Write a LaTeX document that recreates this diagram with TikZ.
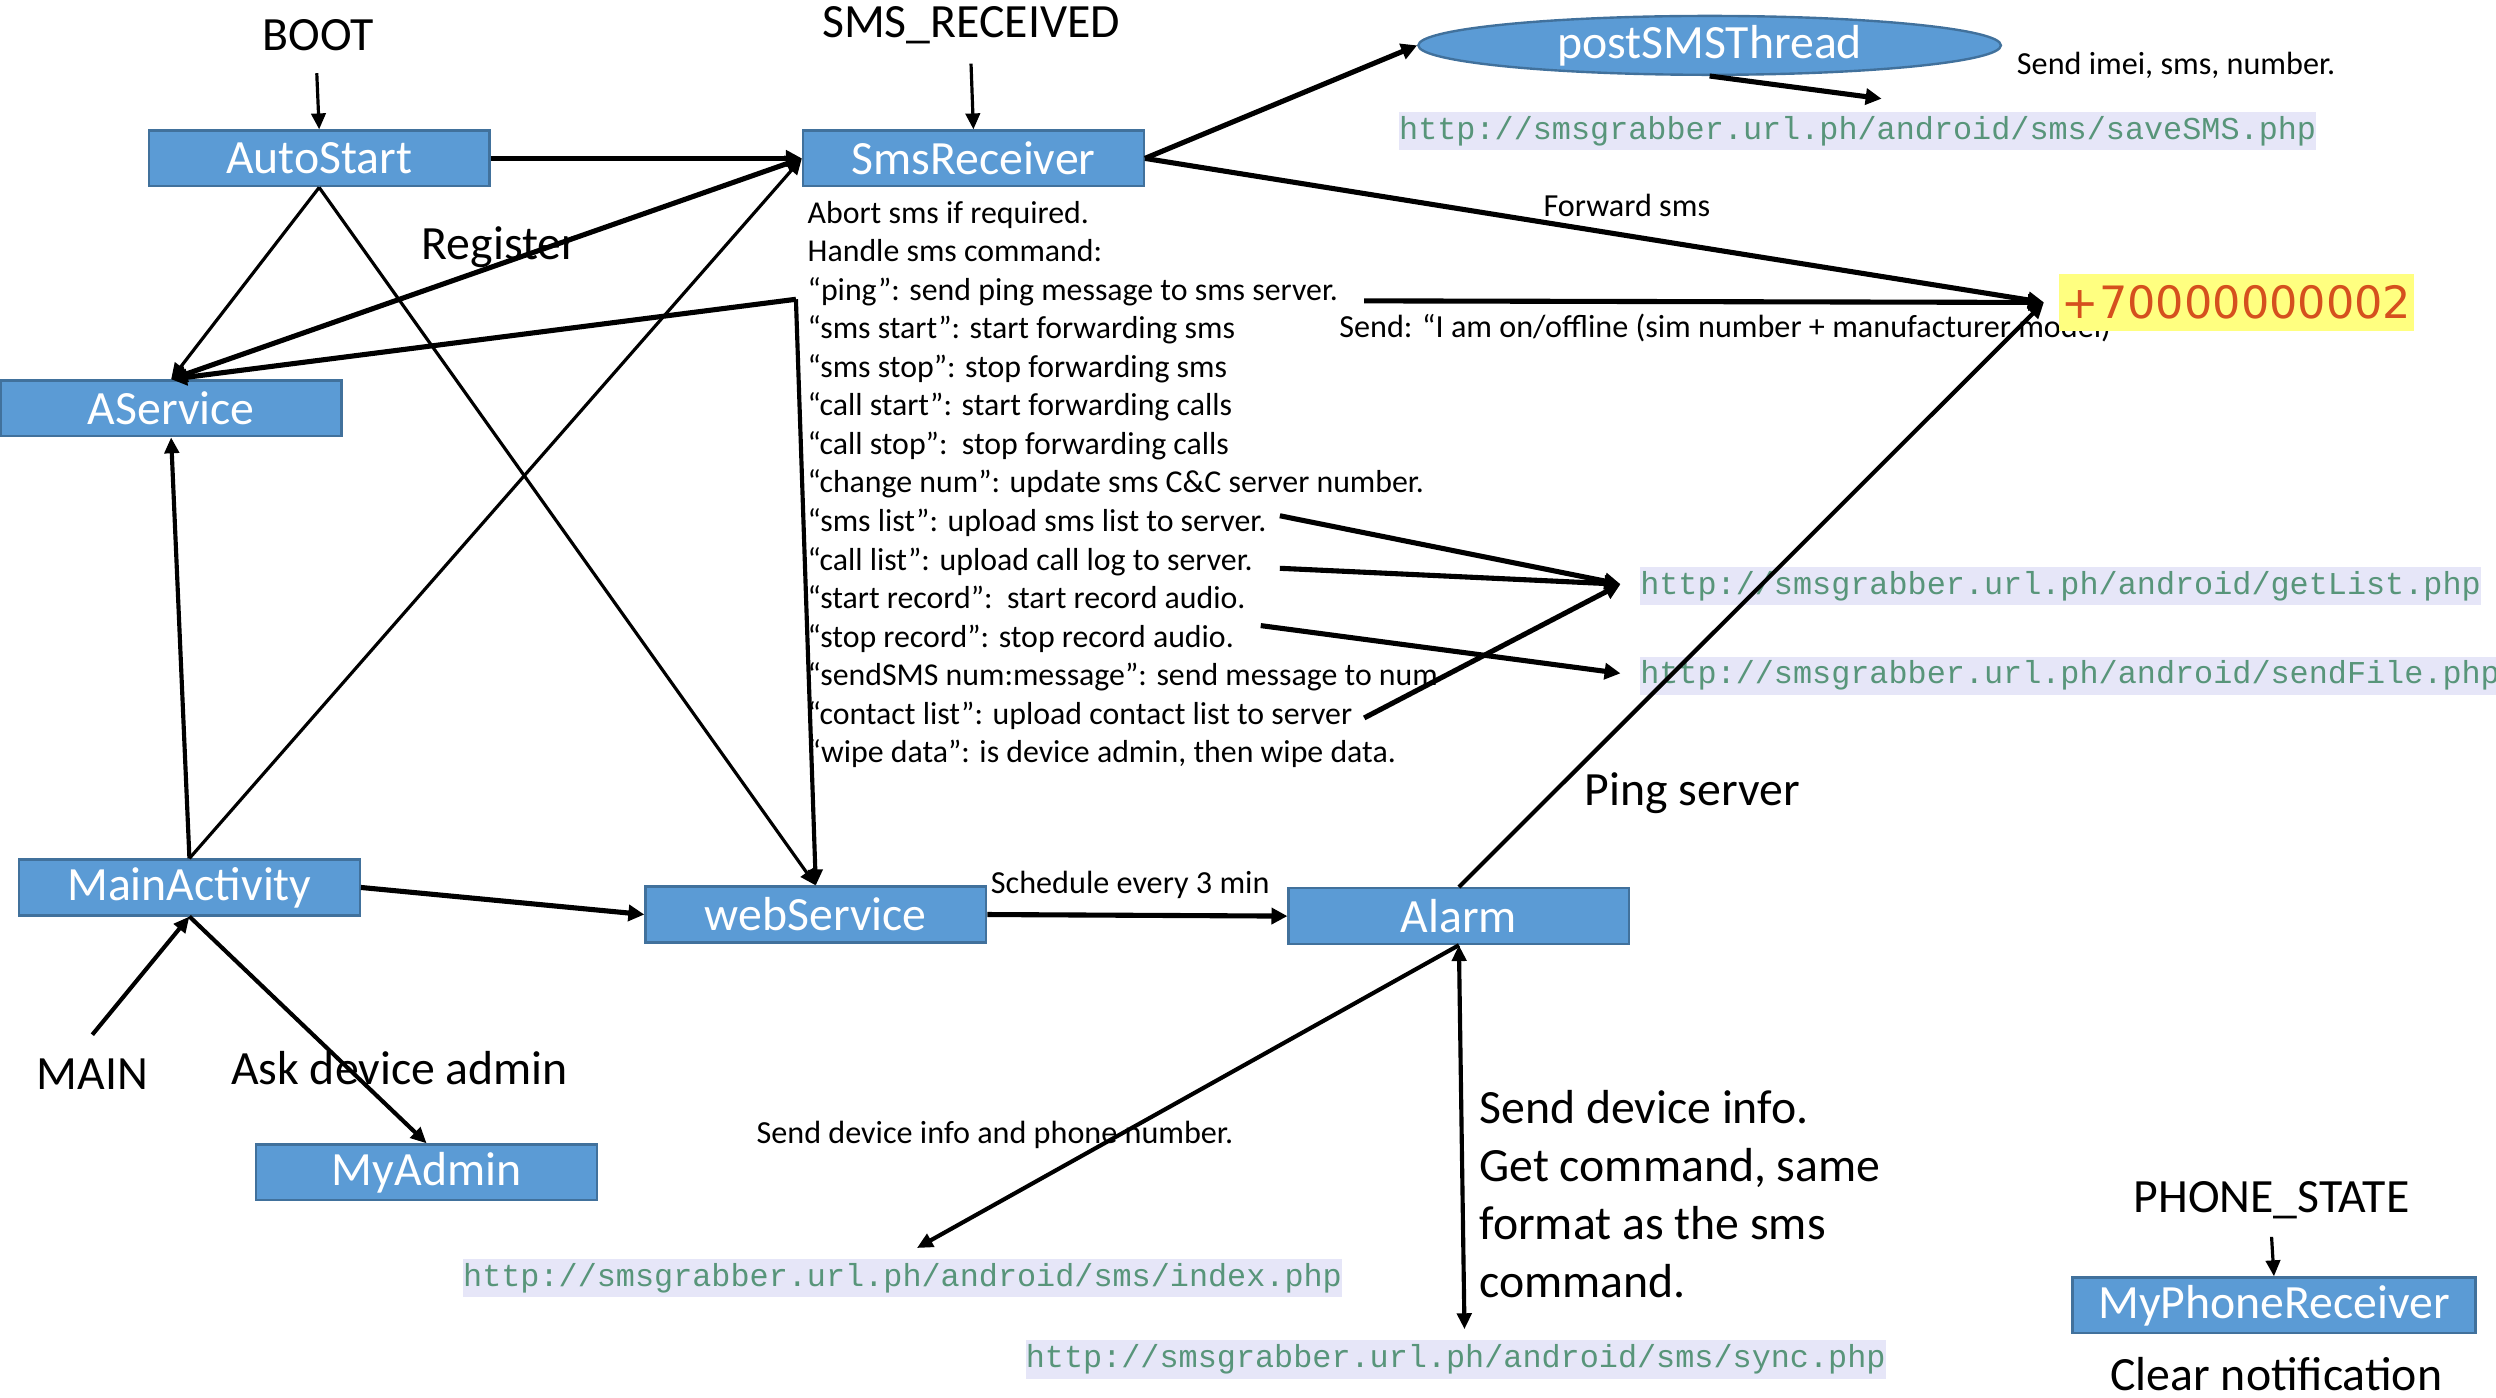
\documentclass[tikz,border=0pt]{standalone}
\usepackage{fontspec}
\setmainfont{Carlito}
\newfontfamily\urlfont{Liberation Mono}
\newfontfamily\numfont{DejaVu Sans}
\usetikzlibrary{arrows.meta,shapes.geometric}
\definecolor{boxfill}{HTML}{5B9BD5}
\definecolor{boxline}{HTML}{41719C}
\definecolor{urlbg}{HTML}{E6E6F8}
\definecolor{urltext}{HTML}{58957A}
\definecolor{numtext}{HTML}{D5501E}
\definecolor{numbg}{HTML}{FFFF80}
\begin{document}
\begin{tikzpicture}[x=0.5pt,y=-0.5pt,
  box/.style={draw=boxline, line width=0.75pt, fill=boxfill, text=white,
    font=\fontsize{15}{17}\selectfont, minimum width=107pt, minimum height=17.5pt, inner sep=0pt},
  big/.style={font=\fontsize{15}{17}\selectfont, inner sep=0pt},
  small/.style={font=\fontsize{10.1}{12.1}\selectfont, inner sep=0pt},
  cmdtext/.style={font=\fontsize{10}{12.1}\selectfont, inner sep=0pt},
  urlnode/.style={fill=urlbg, text=urltext, font=\urlfont\fontsize{10}{12}\selectfont,
    inner xsep=0pt, inner ysep=0pt, minimum height=12pt},
  fat/.style={line width=1.6pt, -{Triangle[length=5pt,width=5pt]}},
  mid/.style={line width=1.3pt, -{Triangle[length=5pt,width=4.5pt]}},
  lean/.style={line width=1pt, -{Triangle[length=5pt,width=4.5pt]}}
]
\useasboundingbox (0,0) rectangle (1568,878);
\fill[white] (0,0) rectangle (1568,878);

% boxes
\node[box] (autostart) at (200.5,99.5) {AutoStart};
\node[box] (smsrec) at (611.5,99.5) {SmsReceiver};
\node[box] (aservice) at (107.5,256.5) {AService};
\node[box] (mainact) at (119,557.5) {MainActivity};
\node[box] (websvc) at (512.5,574.5) {webService};
\node[box] (alarm) at (916.5,575.5) {Alarm};
\node[box] (myadmin) at (268,736.5) {MyAdmin};
\node[box, minimum width=126.5pt] (phonerec) at (1428.5,820) {MyPhoneReceiver};
\node[ellipse, draw=boxline, line width=0.75pt, fill=boxfill, text=white,
  font=\fontsize{15}{17}\selectfont, minimum width=183pt, minimum height=18.5pt, inner sep=0pt]
  (postsms) at (1074,28.5) {postSMSThread};

% labels
\node[big] (boot) at (200,22) {BOOT};
\node[big] (smsr) at (610,16) {SMS\_RECEIVED};
\node[big] (register) at (314,155) {Register};
\node[small] (fwd) at (1022,129) {Forward sms};
\node[small] (imei) at (1367,41) {Send imei, sms, number.};
\node[small] (sendonoff) at (1088,206) {Send: “I am on/offline (sim number + manufacturer model)”};
\node[big] (pingsrv) at (1063,498) {Ping server};
\node[small] (sched) at (710,556) {Schedule every 3 min};
\node[small] (devinfo) at (625,713) {Send device info and phone number.};
\node[inner sep=0pt, align=left, anchor=west, font=\fontsize{15}{18.25}\selectfont] (syncinfo) at (929,750)
  {Send device info.\\Get command, same\\format as the sms\\command.};
\node[big] (mainlbl) at (58,675) {MAIN};
\node[big] (askadm) at (251,671) {Ask device admin};
\node[big] (phst) at (1427,754) {PHONE\_STATE};
\node[big] (clearn) at (1430,863) {Clear notification};

\node[cmdtext, align=left, anchor=north west] (cmds) at (507,126) {Abort sms if required.\\
Handle sms command:\\
“ping”: send ping message to sms server.\\
“sms start”: start forwarding sms\\
“sms stop”: stop forwarding sms\\
“call start”: start forwarding calls\\
“call stop”:\ \ stop forwarding calls\\
“change num”: update sms C\&C server number.\\
“sms list”: upload sms list to server.\\
“call list”: upload call log to server.\\
“start record”:\ \ start record audio.\\
“stop record”: stop record audio.\\
“sendSMS num:message”: send message to num\\
“contact list”: upload contact list to server\\
“wipe data”: is device admin, then wipe data.};

% urls
\node[urlnode] (savesms) at (1167,82.5) {http://smsgrabber.url.ph/android/sms/saveSMS.php};
\node[urlnode, anchor=west] (getlist) at (1030,368) {http://smsgrabber.url.ph/android/getList.php};
\node[urlnode, anchor=west] (sendfile) at (1030,424.5) {http://smsgrabber.url.ph/android/sendFile.php};
\node[urlnode] (indexphp) at (567,803) {http://smsgrabber.url.ph/android/sms/index.php};
\node[urlnode] (syncphp) at (914.5,854) {http://smsgrabber.url.ph/android/sms/sync.php};

\node[fill=numbg, text=numtext, font=\numfont\fontsize{14}{16}\selectfont, minimum height=18pt,
  inner xsep=1pt, inner ysep=0pt] (num) at (1405,190) {+70000000002};

% coordinates
\coordinate (bootout) at (199,46);
\coordinate (smsrout) at (610,40);
\coordinate (phout) at (1427,777);
\coordinate (mainout) at (58,650);
\coordinate (pingend) at (857,189);
\coordinate (numin) at (1284,190);
\coordinate (corner) at (500,188);
\coordinate (smslistend) at (804,324);
\coordinate (calllistend) at (804,357);
\coordinate (stoprecend) at (792,393);
\coordinate (contactend) at (857,451);
\coordinate (glin) at (1018,367);
\coordinate (sfin) at (1018,423);
\coordinate (savein) at (1182,62);
\coordinate (idxin) at (576,784);
\coordinate (syncin) at (920,835);

% connectors
\draw[lean] (bootout) -- (autostart.north);
\draw[lean] (smsrout) -- (smsrec.north);
\draw[lean] (phout) -- (phonerec.north);
\draw[fat] (autostart.east) -- (smsrec.west);
\draw[fat] (smsrec.east) -- (postsms.west);
\draw[fat] (postsms.south) -- (savein);
\draw[fat] (smsrec.east) -- (numin);
\draw[fat] (pingend) -- (numin);
\draw[mid] (alarm.north) -- (numin);
\draw[lean] (autostart.south) -- (aservice.north);
\draw[lean] (autostart.south) -- (websvc.north);
\draw[fat, {Triangle[length=5pt,width=5pt]}-{Triangle[length=5pt,width=5pt]}] (aservice.north) -- (smsrec.west);
\draw[fat] (corner) -- (aservice.north);
\draw[mid] (corner) -- (websvc.north);
\draw[mid] (mainact.north) -- (aservice.south);
\draw[lean] (mainact.north) -- (smsrec.west);
\draw[fat] (mainact.east) -- (websvc.west);
\draw[fat] (websvc.east) -- (alarm.west);
\draw[mid] (mainout) -- (mainact.south);
\draw[mid] (mainact.south) -- (myadmin.north);
\draw[mid] (alarm.south) -- (idxin);
\draw[mid, {Triangle[length=5pt,width=4.5pt]}-{Triangle[length=5pt,width=4.5pt]}] (alarm.south) -- (syncin);
\draw[fat] (smslistend) -- (glin);
\draw[fat] (calllistend) -- (glin);
\draw[fat] (contactend) -- (glin);
\draw[fat] (stoprecend) -- (sfin);
\end{tikzpicture}
\end{document}
